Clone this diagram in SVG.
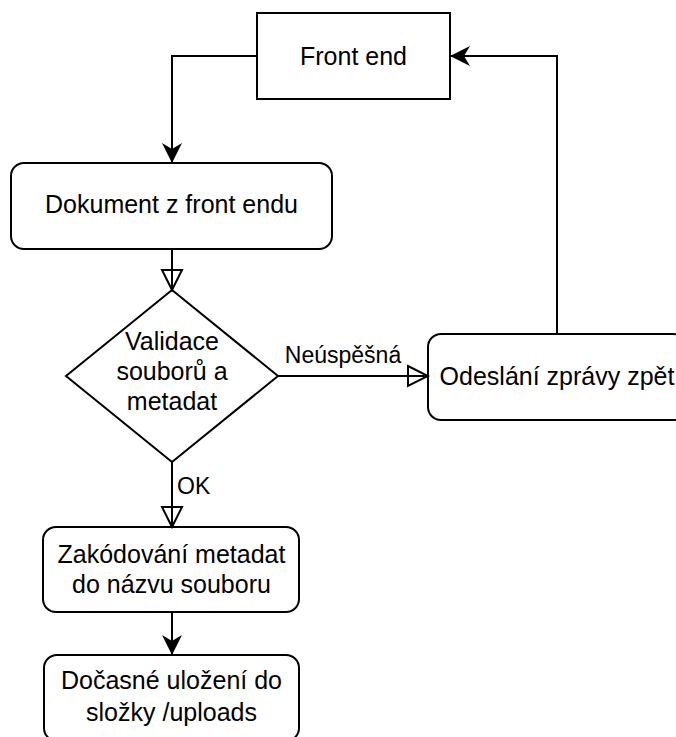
<svg xmlns="http://www.w3.org/2000/svg" width="676" height="737" viewBox="0 0 676 737">
<style>
.box{fill:#fff;stroke:#000;stroke-width:2}
.t{font-family:"Liberation Sans",Arial,sans-serif;font-size:25px;fill:#000;text-anchor:middle}
.lbl{font-family:"Liberation Sans",Arial,sans-serif;font-size:23px;fill:#000}
.edge{fill:none;stroke:#000;stroke-width:2}
</style>
<defs>
<marker id="arr" viewBox="0 0 20 20" refX="20" refY="10" markerWidth="20" markerHeight="20" markerUnits="userSpaceOnUse" orient="auto">
<path d="M0,0 L20,10 L0,20 L6,10 z" fill="#000"/>
</marker>
<marker id="tri" viewBox="-2 -2 24 24" refX="20" refY="10" markerWidth="24" markerHeight="24" markerUnits="userSpaceOnUse" orient="auto">
<path d="M0,0 L20,10 L0,20 z" fill="none" stroke="#000" stroke-width="2"/>
</marker>
</defs>
<rect width="676" height="737" fill="#fff"/>
<g id="front-end">
<rect class="box" x="257" y="13" width="193" height="86"/>
<text class="t" x="353.5" y="64.5">Front end</text>
</g>
<g id="dokument">
<rect class="box" x="11" y="163" width="321" height="86" rx="13"/>
<text class="t" x="171.5" y="213">Dokument z front endu</text>
</g>
<g id="validace">
<polygon class="box" points="172,290 278,376 172,462 66,376"/>
<text class="t" x="172" y="350">Validace</text>
<text class="t" x="172" y="380">souborů a</text>
<text class="t" x="172" y="410">metadat</text>
</g>
<g id="odeslani">
<rect class="box" x="428" y="334" width="258" height="86" rx="13"/>
<text class="t" x="557" y="385">Odeslání zprávy zpět</text>
</g>
<g id="zakodovani">
<rect class="box" x="43" y="527" width="256" height="85" rx="13"/>
<text class="t" x="171.5" y="563">Zakódování metadat</text>
<text class="t" x="171.5" y="593">do názvu souboru</text>
</g>
<g id="docasne">
<rect class="box" x="44" y="655" width="255" height="86" rx="13"/>
<text class="t" x="171.5" y="689">Dočasné uložení do</text>
<text class="t" x="171.5" y="721">složky /uploads</text>
</g>
<g id="connectors">
<path class="edge" d="M257,56 H172 V163" marker-end="url(#arr)"/>
<path class="edge" d="M172,249 V290" marker-end="url(#tri)"/>
<path class="edge" d="M278,376 H428" marker-end="url(#tri)"/>
<text class="lbl" x="343" y="363" text-anchor="middle">Neúspěšná</text>
<path class="edge" d="M172,462 V527" marker-end="url(#tri)"/>
<text class="lbl" x="177" y="494">OK</text>
<path class="edge" d="M172,612 V655" marker-end="url(#arr)"/>
<path class="edge" d="M557,334 V56 H450" marker-end="url(#arr)"/>
</g>
</svg>
